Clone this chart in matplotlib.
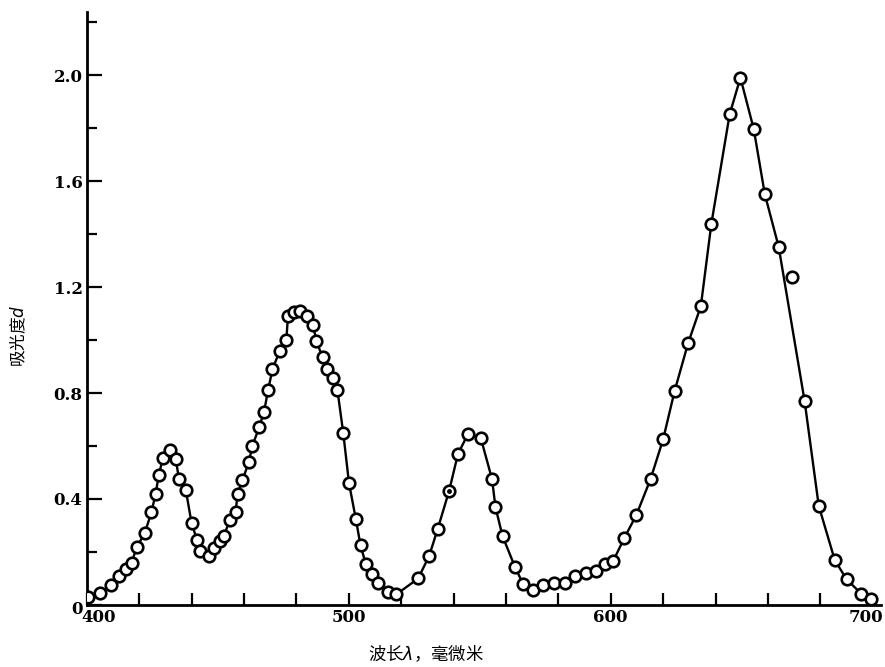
import matplotlib.pyplot as plt
from matplotlib.ticker import MultipleLocator, FixedLocator, NullFormatter
from matplotlib.transforms import ScaledTranslation

plt.rcParams['font.family'] = ['Noto Sans CJK SC', 'DejaVu Sans']

# wavelength (nm) and absorbance
wavelength = [400.5, 405.2, 409.4, 412.3, 415.1, 417.1, 419.2, 422.1, 424.7, 426.3,
              427.5, 429.1, 431.7, 434.0, 435.2, 437.8, 440.0, 442.1, 443.4, 446.6,
              448.5, 450.8, 452.3, 454.6, 456.8, 457.6, 459.4, 461.9, 463.2, 465.8,
              467.7, 469.2, 470.9, 473.7, 476.2, 476.8, 479.0, 481.3, 484.2, 486.4,
              487.7, 490.0, 491.7, 494.0, 495.7, 497.9, 500.1, 502.7, 504.5, 506.5,
              508.7, 511.2, 515.0, 518.2, 526.5, 530.7, 533.9, 538.3, 541.7, 545.5,
              550.4, 554.7, 556.0, 558.7, 563.4, 566.5, 570.3, 574.2, 578.4, 582.4,
              586.3, 590.7, 594.5, 597.7, 600.9, 605.2, 609.8, 615.2, 620.0, 624.4,
              629.5, 634.4, 638.4, 645.4, 649.5, 654.6, 658.8, 664.1, 669.2, 674.0,
              679.4, 685.5, 690.0, 695.7, 699.5]
absorbance = [0.03, 0.045, 0.075, 0.11, 0.135, 0.16, 0.22, 0.27, 0.35, 0.42,
              0.49, 0.555, 0.585, 0.55, 0.475, 0.435, 0.31, 0.245, 0.205, 0.185,
              0.215, 0.24, 0.26, 0.32, 0.35, 0.42, 0.47, 0.54, 0.60, 0.67,
              0.73, 0.81, 0.89, 0.96, 1.00, 1.09, 1.105, 1.11, 1.09, 1.055,
              0.995, 0.935, 0.89, 0.855, 0.81, 0.65, 0.46, 0.325, 0.225, 0.155,
              0.115, 0.083, 0.05, 0.04, 0.10, 0.185, 0.285, 0.43, 0.57, 0.645,
              0.63, 0.475, 0.37, 0.26, 0.145, 0.08, 0.057, 0.075, 0.084, 0.082,
              0.11, 0.12, 0.128, 0.155, 0.165, 0.253, 0.34, 0.475, 0.625, 0.808,
              0.987, 1.128, 1.438, 1.852, 1.99, 1.796, 1.551, 1.352, 1.239, 0.77,
              0.374, 0.17, 0.097, 0.042, 0.022]
outlier = 669.2          # point that sits off the drawn curve
dotted_point = 538.3     # circle with a dot in it

x_labels = ['400', '500', '600', '700']
y_labels = ['0', '0.4', '0.8', '1.2', '1.6', '2.0']

fig = plt.figure(figsize=(8.85, 6.67), dpi=100)
ax = fig.add_axes([0.098, 0.093, 0.897, 0.889])

line_x = [w for w in wavelength if w != outlier]
line_y = [a for w, a in zip(wavelength, absorbance) if w != outlier]
ax.plot(line_x, line_y, color='black', lw=1.7, zorder=2)
ax.plot(wavelength, absorbance, 'o', ms=8.3, mfc='white', mec='black', mew=1.9, zorder=3)
i = wavelength.index(dotted_point)
ax.plot([wavelength[i]], [absorbance[i]], 'o', ms=2.5, color='black', zorder=4)

ax.set_xlim(400, 703)
ax.set_ylim(0, 2.238)

for s in ['top', 'right']:
    ax.spines[s].set_visible(False)
for s in ['left', 'bottom']:
    ax.spines[s].set_linewidth(2)

serif = {'family': 'DejaVu Serif', 'weight': 'bold', 'size': 12}

ax.xaxis.set_major_locator(FixedLocator([float(v) for v in x_labels]))
ax.set_xticklabels(x_labels, fontdict=serif)
ax.xaxis.set_minor_locator(MultipleLocator(20))
ax.xaxis.set_minor_formatter(NullFormatter())
ax.tick_params(axis='x', which='both', direction='in', length=9, width=1.6, pad=3)

ax.yaxis.set_major_locator(FixedLocator([float(v) for v in y_labels]))
ax.set_yticklabels(y_labels, fontdict=serif)
ax.yaxis.set_minor_locator(MultipleLocator(0.2))
ax.yaxis.set_minor_formatter(NullFormatter())
ax.tick_params(axis='y', which='major', direction='in', length=11, width=1.6, pad=3)
ax.tick_params(axis='y', which='minor', direction='in', length=7, width=1.6)

# nudge the corner labels the way the original is set
xt = ax.get_xticklabels()
xt[0].set_transform(xt[0].get_transform() + ScaledTranslation(0.12, 0, fig.dpi_scale_trans))
xt[-1].set_transform(xt[-1].get_transform() + ScaledTranslation(-0.07, 0, fig.dpi_scale_trans))
yt = ax.get_yticklabels()
yt[0].set_transform(yt[0].get_transform() + ScaledTranslation(0, -0.03, fig.dpi_scale_trans))

fig.text(0.021, 0.497, '吸光度$d$', rotation=90, ha='center', va='center', fontsize=12)
fig.text(0.481, 0.005, '波长$\\lambda$，毫微米', ha='center', va='bottom', fontsize=12.5)

fig.savefig('out.png', dpi=100)
